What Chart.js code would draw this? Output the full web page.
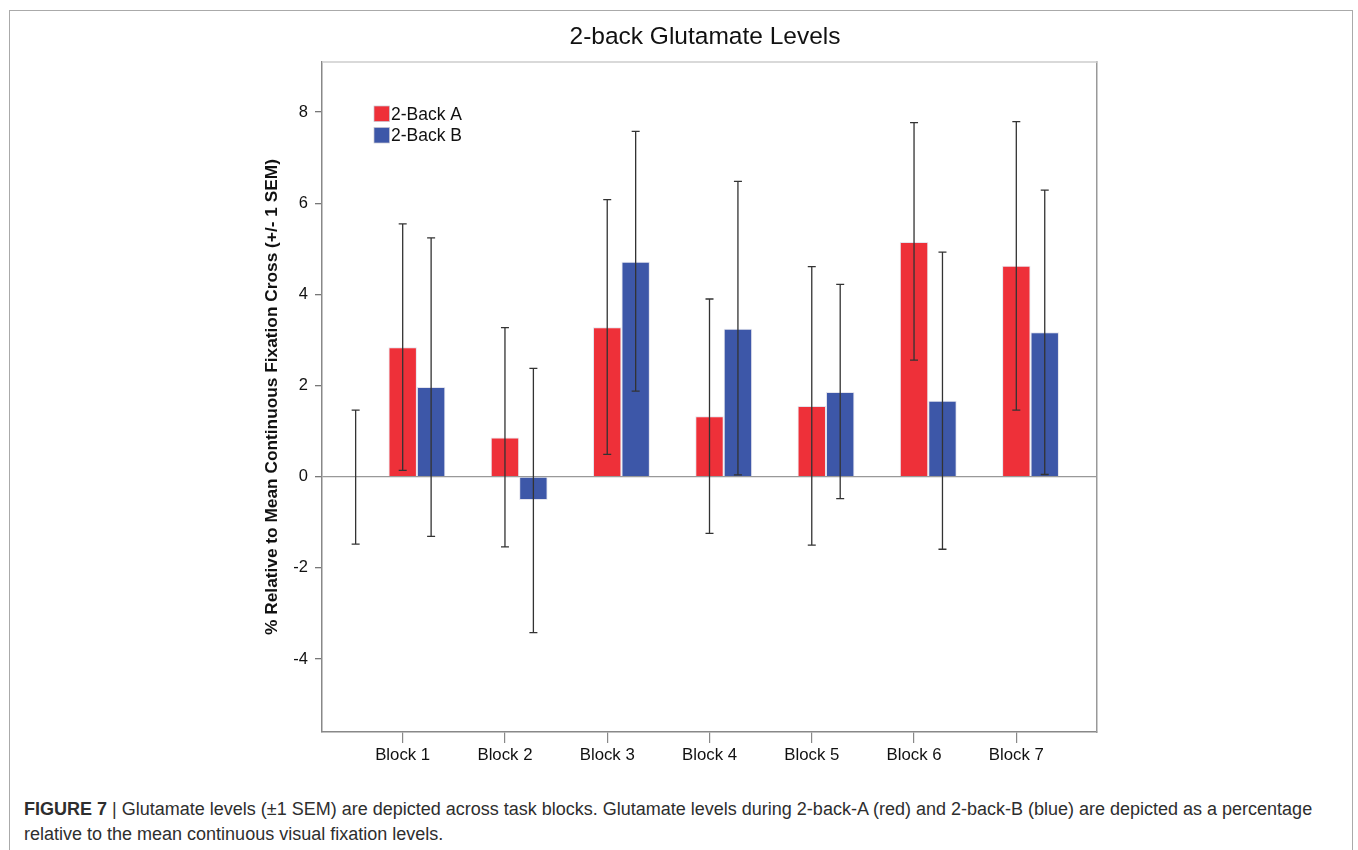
<!DOCTYPE html>
<html>
<head>
<meta charset="utf-8">
<script src="https://cdn.jsdelivr.net/npm/chart.js"></script>
<style>
  html, body { margin: 0; padding: 0; background: #fff; overflow: hidden; }
  body { width: 1358px; height: 850px; position: relative; font-family: "Liberation Sans", Arial, sans-serif; }
  #frame { position: absolute; left: 9px; top: 10px; width: 1344px; height: 900px; border: 1.5px solid #aaa; box-sizing: border-box; }
  #wrap { position: absolute; left: 52px; top: 0; width: 1306px; height: 790px; }
  #caption { position: absolute; left: 24px; top: 797px; font-size: 18px; line-height: 25px; color: #2e2e2e; white-space: nowrap; }
</style>
</head>
<body>
<div id="frame"></div>
<div id="wrap"><canvas id="chart"></canvas></div>
<div id="caption"><b>FIGURE 7</b> | Glutamate levels (&plusmn;1 SEM) are depicted across task blocks. Glutamate levels during 2-back-A (red) and 2-back-B (blue) are depicted as a percentage<br>relative to the mean continuous visual fixation levels.</div>
<script>
// data
const categories = ["Block 1", "Block 2", "Block 3", "Block 4", "Block 5", "Block 6", "Block 7"];
const backA = [2.84, 0.86, 3.28, 1.33, 1.55, 5.15, 4.63];
const backB = [1.97, -0.51, 4.72, 3.25, 1.86, 1.67, 3.17];
const backAHigh = [5.55, 3.27, 6.08, 3.90, 4.61, 7.77, 7.79];
const backALow = [0.14, -1.54, 0.49, -1.24, -1.50, 2.56, 1.46];
const backBHigh = [5.24, 2.38, 7.58, 6.48, 4.22, 4.93, 6.29];
const backBLow = [-1.31, -3.42, 1.88, 0.04, -0.48, -1.59, 0.05];
// stray error bar left of Block 1 (mean 0)
const strayHigh = [1.46];
const strayLow = [-1.48];
const yMin = -5.6, yMax = 9.1, yStep = 2;

const FONT = "'Liberation Sans', Arial, sans-serif";
const RED = "#ee3039";
const BLUE = "#3d57a8";

// error bars drawn from the bar elements + y scale
const errorBars = {
  id: "errorBars",
  afterDatasetsDraw(chart) {
    const ctx = chart.ctx;
    const y = chart.scales.y;
    const x = chart.scales.x;
    const cap = 4;
    const seg = (px, hi, lo) => {
      const top = y.getPixelForValue(hi), bot = y.getPixelForValue(lo);
      ctx.beginPath();
      ctx.moveTo(px, top); ctx.lineTo(px, bot);
      ctx.moveTo(px - cap, top); ctx.lineTo(px + cap, top);
      ctx.moveTo(px - cap, bot); ctx.lineTo(px + cap, bot);
      ctx.stroke();
    };
    ctx.save();
    ctx.strokeStyle = "#333";
    ctx.lineWidth = 1.3;
    [[1, backAHigh, backALow], [2, backBHigh, backBLow]].forEach(([di, hi, lo]) => {
      chart.getDatasetMeta(di).data.forEach((bar, i) => seg(bar.x, hi[i], lo[i]));
    });
    strayHigh.forEach((hi, i) => seg(x.getPixelForValue(i - 0.46), hi, strayLow[i]));
    ctx.restore();
  }
};

// legend inside the plot, top left
const innerLegend = {
  id: "innerLegend",
  afterDraw(chart) {
    const ctx = chart.ctx;
    const a = chart.chartArea;
    ctx.save();
    ctx.font = "17.5px " + FONT;
    ctx.textBaseline = "middle";
    chart.data.datasets.slice(1).forEach((ds, i) => {
      const bx = a.left + 52, by = a.top + 44 + i * 21.5;
      ctx.fillStyle = ds.backgroundColor;
      ctx.fillRect(bx, by, 15.5, 15.5);
      ctx.strokeStyle = "rgba(200,200,210,0.9)";
      ctx.lineWidth = 0.8;
      ctx.strokeRect(bx, by, 15.5, 15.5);
      ctx.fillStyle = "#111";
      ctx.fillText(ds.label, bx + 17, by + 9);
    });
    // top edge of the plot frame
    ctx.strokeStyle = "#ccc";
    ctx.lineWidth = 1.5;
    ctx.beginPath();
    ctx.moveTo(a.left, a.top); ctx.lineTo(a.right, a.top);
    ctx.stroke();
    ctx.restore();
  }
};

const xPad = 0.789;

new Chart(document.getElementById("chart"), {
  type: "bar",
  data: {
    labels: categories,
    datasets: [
      { label: "", data: categories.map(() => null), backgroundColor: "transparent" },
      { label: "2-Back A", data: backA, backgroundColor: RED, borderColor: "rgba(225,225,235,0.9)", borderWidth: 1 },
      { label: "2-Back B", data: backB, backgroundColor: BLUE, borderColor: "rgba(225,225,235,0.9)", borderWidth: 1 }
    ]
  },
  options: {
    responsive: true,
    maintainAspectRatio: false,
    animation: false,
    categoryPercentage: 0.834,
    barPercentage: 1,
    layout: { padding: 0 },
    plugins: {
      legend: { display: false },
      tooltip: { enabled: false },
      title: {
        display: true,
        text: "2-back Glutamate Levels",
        color: "#111",
        font: { family: FONT, size: 24.5, weight: "normal", lineHeight: 1.2 },
        padding: { top: 22.3, bottom: 10.3 }
      }
    },
    scales: {
      x: {
        offset: false,
        grid: { offset: false, drawOnChartArea: false, color: "#888", tickLength: 11, lineWidth: 1.2 },
        border: { color: "#888", width: 1.5 },
        ticks: { color: "#111", font: { family: FONT, size: 16.8 }, padding: 2.5, maxRotation: 0 },
        afterBuildTicks: s => {
          s._startValue = -xPad;
          s._valueRange = categories.length - 1 + 2 * xPad;
        },
        afterFit: s => { s.height = 58; }
      },
      y: {
        min: yMin,
        max: yMax,
        grid: {
          color: c => (c.tick && c.tick.value === 0 ? "#999" : "transparent"),
          tickColor: "#777",
          tickLength: 7,
          lineWidth: 1.3
        },
        border: { color: "#888", width: 1.5 },
        ticks: { stepSize: yStep, includeBounds: false, color: "#111", font: { family: FONT, size: 16.5 }, padding: 7 },
        title: {
          display: true,
          text: "% Relative to Mean Continuous Fixation Cross (+/- 1 SEM)",
          color: "#111",
          font: { family: FONT, size: 17.3, weight: "bold" },
          padding: { top: 209.6, bottom: 0 }
        },
        afterFit: s => { s.width = 270; }
      },
      y2: {
        position: "right",
        display: true,
        grid: { display: false },
        ticks: { display: false },
        border: { color: "#999", width: 1.5 },
        afterFit: s => { s.width = 261; }
      }
    }
  },
  plugins: [errorBars, innerLegend]
});
</script>
</body>
</html>
